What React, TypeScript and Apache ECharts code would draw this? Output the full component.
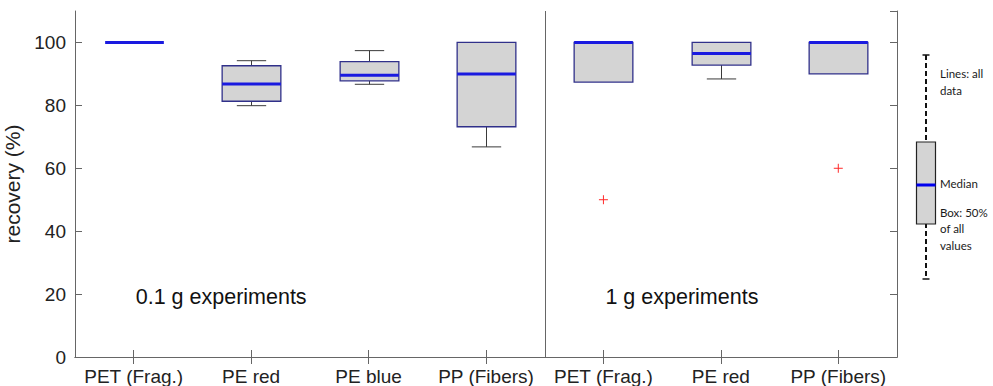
import React, { useEffect, useRef } from "react";
import * as echarts from "echarts";

const categories = ["PET (Frag.)", "PE red", "PE blue", "PP (Fibers)", "PET (Frag.)", "PE red", "PP (Fibers)"];
const whiskerLow = [100, 79.9, 86.7, 66.8, 87.4, 88.4, 90];
const quartile1 = [100, 81.3, 87.8, 73.2, 87.4, 92.8, 90];
const medians = [100, 86.8, 89.6, 90, 100, 96.5, 100];
const quartile3 = [100, 92.6, 93.9, 100, 100, 100, 100];
const whiskerHigh = [100, 94.2, 97.4, 100, 100, 100, 100];
const outliers = [
  [4, 50],
  [6, 60],
];
const panelLabels = [
  [0, 19, "0.1 g experiments"],
  [4, 19, "1 g experiments"],
];
const dividerAfter = [3];
const yTicks = { min: 0, max: 110, interval: 20 };

const FONT = '"Liberation Sans", Arial, Helvetica, sans-serif';
const LEGEND_FONT = 'Lato, "Open Sans", sans-serif';
const AXIS_COLOR = "#666666";
const BOX_EDGE = "#30308a";
const MEDIAN_COLOR = "#1a1ae0";
const WHISKER_COLOR = "#3a3a3a";

export default function App() {
  const ref = useRef<HTMLDivElement>(null);

  useEffect(() => {
    const chart = echarts.init(ref.current!, null, { renderer: "svg" });
    const boxData = categories.map((_, i) => [i, whiskerLow[i], quartile1[i], medians[i], quartile3[i], whiskerHigh[i]]);

    const option: any = {
      animation: false,
      backgroundColor: "#ffffff",
      grid: { left: 75, right: 96, top: 11, bottom: 29, containLabel: false, outerBoundsMode: "none" },
      xAxis: [
        {
          type: "category",
          data: categories,
          position: "bottom",
          axisLine: { show: true, lineStyle: { color: AXIS_COLOR, width: 1 } },
          axisTick: { show: true, inside: true, alignWithLabel: true, length: 7, lineStyle: { color: AXIS_COLOR } },
          axisLabel: { color: "#222222", fontSize: 19, fontFamily: FONT, margin: 10, interval: 0 },
          splitLine: { show: false },
        },
        {
          type: "category",
          data: categories,
          position: "top",
          axisLine: { show: true, lineStyle: { color: AXIS_COLOR, width: 1 } },
          axisTick: { show: true, inside: true, alignWithLabel: true, length: 7, lineStyle: { color: AXIS_COLOR } },
          axisLabel: { show: false },
          splitLine: { show: false },
        },
      ],
      yAxis: [
        {
          type: "value",
          min: yTicks.min,
          max: yTicks.max,
          interval: yTicks.interval,
          position: "left",
          name: "recovery (%)",
          nameLocation: "middle",
          nameGap: 41,
          nameTextStyle: { color: "#222222", fontSize: 21, fontFamily: FONT },
          axisLine: { show: true, lineStyle: { color: AXIS_COLOR, width: 1 } },
          axisTick: { show: true, inside: true, length: 7, lineStyle: { color: AXIS_COLOR } },
          axisLabel: { color: "#222222", fontSize: 19, fontFamily: FONT, margin: 9, showMaxLabel: false },
          splitLine: { show: false },
        },
        {
          type: "value",
          min: yTicks.min,
          max: yTicks.max,
          interval: yTicks.interval,
          position: "right",
          axisLine: { show: true, lineStyle: { color: AXIS_COLOR, width: 1 } },
          axisTick: { show: true, inside: true, length: 7, lineStyle: { color: AXIS_COLOR } },
          axisLabel: { show: false },
          splitLine: { show: false },
        },
      ],
      series: [
        {
          type: "custom",
          name: "divider",
          xAxisIndex: 0,
          yAxisIndex: 0,
          silent: true,
          data: dividerAfter.map((d) => [d, 0]),
          encode: { x: 0, y: 1 },
          renderItem: (params: any, api: any) => {
            const band = api.size([1, 0])[0];
            const x = Math.round(api.coord([api.value(0), 0])[0] + band / 2) + 0.5;
            const cs = params.coordSys;
            return {
              type: "line",
              shape: { x1: x, y1: cs.y, x2: x, y2: cs.y + cs.height },
              style: { stroke: AXIS_COLOR, lineWidth: 1 },
            };
          },
        },
        {
          type: "custom",
          name: "boxes",
          xAxisIndex: 0,
          yAxisIndex: 0,
          silent: true,
          data: boxData,
          encode: { x: 0, y: [1, 2, 3, 4, 5] },
          renderItem: (params: any, api: any) => {
            const i = api.value(0);
            const band = api.size([1, 0])[0];
            const cx = Math.round(api.coord([i, 0])[0]) + 0.5;
            const yLo = api.coord([i, api.value(1)])[1];
            const yQ1 = api.coord([i, api.value(2)])[1];
            const yMed = api.coord([i, api.value(3)])[1];
            const yQ3 = api.coord([i, api.value(4)])[1];
            const yHi = api.coord([i, api.value(5)])[1];
            const bw = band * 0.5;
            const cw = band * 0.25;
            const wStyle = { stroke: WHISKER_COLOR, lineWidth: 1 };
            const children: any[] = [];
            if (yHi < yQ3 - 0.5) {
              children.push({ type: "line", shape: { x1: cx, y1: yQ3, x2: cx, y2: yHi }, style: wStyle });
              children.push({ type: "line", shape: { x1: cx - cw / 2, y1: yHi, x2: cx + cw / 2, y2: yHi }, style: wStyle });
            }
            if (yLo > yQ1 + 0.5) {
              children.push({ type: "line", shape: { x1: cx, y1: yQ1, x2: cx, y2: yLo }, style: wStyle });
              children.push({ type: "line", shape: { x1: cx - cw / 2, y1: yLo, x2: cx + cw / 2, y2: yLo }, style: wStyle });
            }
            if (yQ1 - yQ3 > 0.5) {
              children.push({
                type: "rect",
                shape: { x: cx - bw / 2, y: yQ3, width: bw, height: yQ1 - yQ3 },
                style: { fill: "#d4d4d4", stroke: BOX_EDGE, lineWidth: 1.3 },
              });
            }
            children.push({
              type: "line",
              shape: { x1: cx - bw / 2, y1: yMed, x2: cx + bw / 2, y2: yMed },
              style: { stroke: MEDIAN_COLOR, lineWidth: 3 },
            });
            return { type: "group", children };
          },
        },
        {
          type: "custom",
          name: "outliers",
          xAxisIndex: 0,
          yAxisIndex: 0,
          silent: true,
          data: outliers,
          encode: { x: 0, y: 1 },
          renderItem: (params: any, api: any) => {
            const [x, y] = api.coord([api.value(0), api.value(1)]);
            const s = 4.5;
            const st = { stroke: "#ff2a2a", lineWidth: 1 };
            return {
              type: "group",
              children: [
                { type: "line", shape: { x1: x - s, y1: y, x2: x + s, y2: y }, style: st },
                { type: "line", shape: { x1: x, y1: y - s, x2: x, y2: y + s }, style: st },
              ],
            };
          },
        },
        {
          type: "custom",
          name: "panelLabels",
          xAxisIndex: 0,
          yAxisIndex: 0,
          silent: true,
          data: panelLabels.map((p) => [p[0], p[1]]),
          encode: { x: 0, y: 1 },
          renderItem: (params: any, api: any) => {
            const [x, y] = api.coord([api.value(0), api.value(1)]);
            return {
              type: "text",
              x: x + 2,
              y: y,
              style: {
                text: panelLabels[params.dataIndex][2] as string,
                fill: "#111111",
                fontSize: 21.5,
                fontFamily: FONT,
                align: "left",
                verticalAlign: "middle",
              },
            };
          },
        },
      ],
      graphic: [
        {
          type: "group",
          silent: true,
          children: [
            { type: "line", shape: { x1: 926, y1: 55, x2: 926, y2: 279 }, style: { stroke: "#111", lineWidth: 2, lineDash: [5, 3] } },
            { type: "line", shape: { x1: 922.5, y1: 55, x2: 929.5, y2: 55 }, style: { stroke: "#111", lineWidth: 1.5 } },
            { type: "line", shape: { x1: 922.5, y1: 279, x2: 929.5, y2: 279 }, style: { stroke: "#111", lineWidth: 1.5 } },
            { type: "rect", shape: { x: 916.5, y: 142, width: 19, height: 82 }, style: { fill: "#d4d4d4", stroke: "#222", lineWidth: 1.2 } },
            { type: "line", shape: { x1: 916.5, y1: 185, x2: 935.5, y2: 185 }, style: { stroke: "#0000ee", lineWidth: 3 } },
            { type: "text", x: 940, y: 73, style: { text: "Lines: all", fill: "#1a1a1a", fontSize: 11.5, fontFamily: LEGEND_FONT, verticalAlign: "middle" } },
            { type: "text", x: 940, y: 90, style: { text: "data", fill: "#1a1a1a", fontSize: 11.5, fontFamily: LEGEND_FONT, verticalAlign: "middle" } },
            { type: "text", x: 940, y: 183, style: { text: "Median", fill: "#1a1a1a", fontSize: 11.5, fontFamily: LEGEND_FONT, verticalAlign: "middle" } },
            { type: "text", x: 940, y: 212, style: { text: "Box: 50%", fill: "#1a1a1a", fontSize: 11.5, fontFamily: LEGEND_FONT, verticalAlign: "middle" } },
            { type: "text", x: 940, y: 228.5, style: { text: "of all", fill: "#1a1a1a", fontSize: 11.5, fontFamily: LEGEND_FONT, verticalAlign: "middle" } },
            { type: "text", x: 940, y: 245, style: { text: "values", fill: "#1a1a1a", fontSize: 11.5, fontFamily: LEGEND_FONT, verticalAlign: "middle" } },
          ],
        },
      ],
    };

    chart.setOption(option);
    return () => chart.dispose();
  }, []);

  return (
    <div
      ref={ref}
      style={{ position: "fixed", left: 0, top: 0, width: 993, height: 386, background: "#ffffff" }}
    />
  );
}
